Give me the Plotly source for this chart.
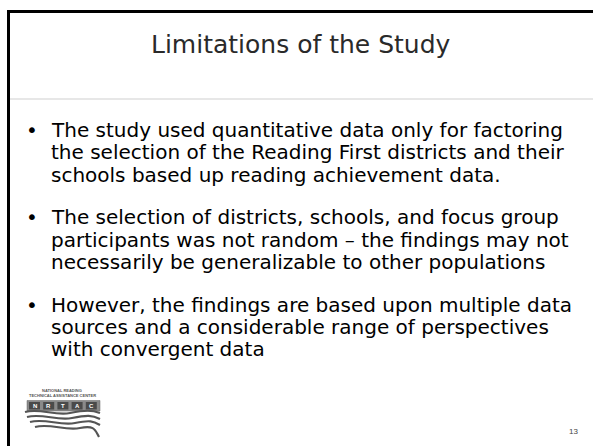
import plotly.graph_objects as go

# ---- content ----
title_text = "Limitations of the Study"
bullet1 = ["The study used quantitative data only for factoring",
           "the selection of the Reading First districts and their",
           "schools based up reading achievement data."]
bullet2 = ["The selection of districts, schools, and focus group",
           "participants was not random \u2013 the findings may not",
           "necessarily be generalizable to other populations"]
bullet3 = ["However, the findings are based upon multiple data",
           "sources and a considerable range of perspectives",
           "with convergent data"]
bullets = [bullet1, bullet2, bullet3]
page_number = "13"
logo_top_lines = ["NATIONAL READING", "TECHNICAL ASSISTANCE CENTER"]
logo_letters = ["N", "R", "T", "A", "C"]

W, H = 593, 446
fig = go.Figure()
fig.update_layout(
    width=W, height=H, margin=dict(l=0, r=0, t=0, b=0),
    paper_bgcolor="white", plot_bgcolor="white", showlegend=False,
    xaxis=dict(range=[0, W], visible=False, fixedrange=True),
    yaxis=dict(range=[H, 0], visible=False, fixedrange=True),
)

shapes = []
annotations = []

# borders
shapes.append(dict(type="line", x0=8.5, x1=8.5, y0=10, y1=H, line=dict(color="black", width=3)))
shapes.append(dict(type="line", x0=7, x1=W, y0=11.5, y1=11.5, line=dict(color="black", width=3)))
shapes.append(dict(type="line", x0=10, x1=W, y0=99, y1=99, line=dict(color="#cfcfcf", width=1)))

BODY_FONT = "DejaVu Sans"

# title
annotations.append(dict(x=301, y=44, text=title_text, showarrow=False, xanchor="center", yanchor="middle",
                        font=dict(family="DejaVu Sans", size=25, color="#2a2a2a")))

# bullets
y = 130
step = 22.3
gap = 20.5
for para in bullets:
    annotations.append(dict(x=32, y=y, text="\u2022", showarrow=False, xanchor="center", yanchor="middle",
                            font=dict(family=BODY_FONT, size=20, color="black")))
    for line in para:
        annotations.append(dict(x=49, y=y, text=line, showarrow=False, xanchor="left", yanchor="middle",
                                font=dict(family=BODY_FONT, size=20, color="black")))
        y += step
    y += gap

# page number
annotations.append(dict(x=573, y=431, text=page_number, showarrow=False, xanchor="center", yanchor="middle",
                        font=dict(family="Liberation Sans", size=8, color="#444444")))

# logo
annotations.append(dict(x=62, y=390, text="<b>" + logo_top_lines[0] + "</b>", showarrow=False,
                        xanchor="center", yanchor="middle",
                        font=dict(family="Liberation Sans", size=4, color="#555555")))
annotations.append(dict(x=62, y=395.5, text="<b>" + logo_top_lines[1] + "</b>", showarrow=False,
                        xanchor="center", yanchor="middle",
                        font=dict(family="Liberation Sans", size=4, color="#555555")))
shapes.append(dict(type="rect", x0=27, x1=100, y0=400.5, y1=411, fillcolor="#8a8a8a",
                   line=dict(color="#666666", width=0.5)))
bx = 29
for letter in logo_letters:
    shapes.append(dict(type="rect", x0=bx, x1=bx + 11, y0=402, y1=409.5, fillcolor="#4a4a4a",
                       line=dict(width=0)))
    annotations.append(dict(x=bx + 5.5, y=405.8, text="<b>" + letter + "</b>", showarrow=False,
                            xanchor="center", yanchor="middle",
                            font=dict(family="Liberation Sans", size=6, color="white")))
    bx += 14.2

waves = [
    "M 25 412 C 40 408, 55 416, 70 413 S 92 410, 100 413",
    "M 27 417 C 42 413, 57 421, 72 418 S 92 415, 100 419",
    "M 30 422 C 45 418, 60 426, 75 423 S 93 421, 100 425",
    "M 35 427 C 50 423, 65 431, 80 428 S 95 430, 99 437",
]
for p in waves:
    shapes.append(dict(type="path", path=p, line=dict(color="#555555", width=2.2)))

fig.update_layout(shapes=shapes, annotations=annotations)
fig.write_html("out.html",
               config={"displayModeBar": False, "staticPlot": True},
               post_script="document.body.style.margin='0';document.body.style.overflow='hidden';")
